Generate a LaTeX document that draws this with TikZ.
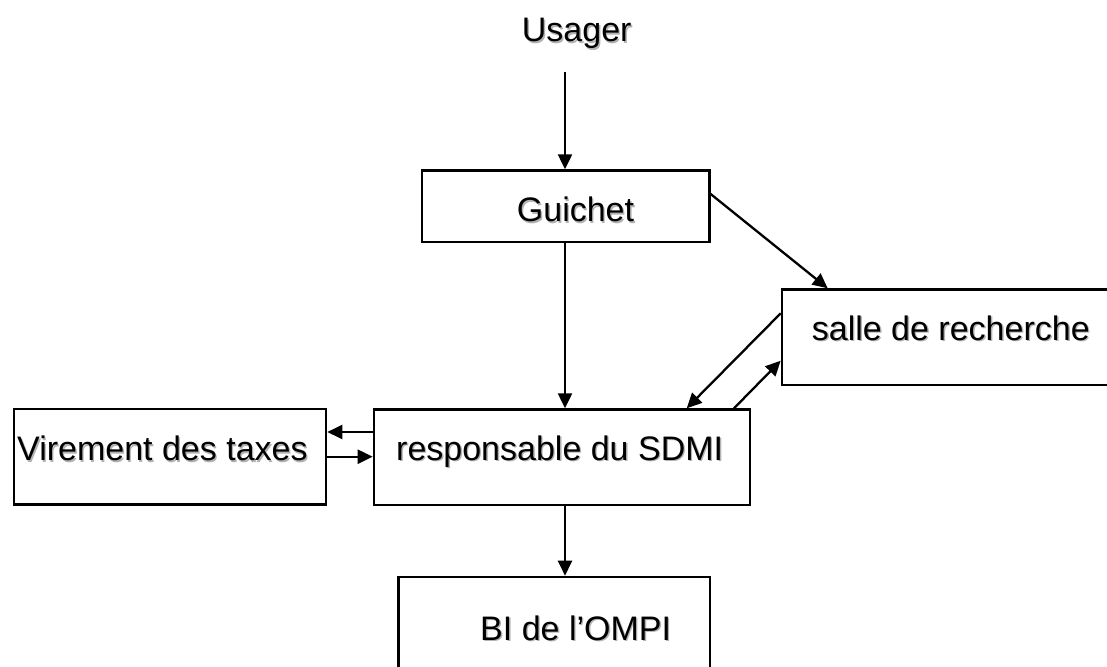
\documentclass[tikz,border=0pt]{standalone}
\usepackage{fontspec}
\setmainfont{Liberation Sans}
\usetikzlibrary{arrows.meta}

% text with a soft grey drop shadow
\newcommand{\shadowtext}[1]{\rlap{\kern1.4pt\raisebox{-1.4pt}{\textcolor{black!30}{#1}}}#1}

\begin{document}
\begin{tikzpicture}[x=1pt, y=-1pt,
    box/.style={draw, line width=2.3pt, rectangle, minimum width=#1, anchor=north west, inner sep=0pt},
    lbl/.style={anchor=base west, inner sep=0pt, font=\fontsize{34}{40}\selectfont},
    arr/.style={line width=2.3pt, -{Triangle[length=15pt, width=14pt]}},
  ]
  \useasboundingbox (0,0) rectangle (1107,666);

  % boxes
  \node[box=287.6pt, minimum height=71.4pt]  (guichet)  at (420.7,169.3) {};
  \node[box=376pt,   minimum height=95.7pt]  (sdmi)     at (372.7,408.3) {};
  \node[box=312.3pt, minimum height=95.3pt]  (virement) at (12.7,408.0)  {};
  \node[box=360pt,   minimum height=95.7pt]  (salle)    at (780.7,288.3) {};
  \node[box=311.6pt, minimum height=120pt]   (bi)       at (397.3,575.7) {};

  % labels
  \node[lbl] (tusager)   at (521.7,41.7)  {\shadowtext{Usager}};
  \node[lbl] (tguichet)  at (516.7,221.7) {\shadowtext{Guichet}};
  \node[lbl] (tsdmi)     at (396.0,460.0) {\shadowtext{responsable du SDMI}};
  \node[lbl] (tvirement) at (17.0,460.7)  {\shadowtext{Virement des taxes}};
  \node[lbl] (tsalle)    at (811.7,340.0) {\shadowtext{salle de recherche}};
  \node[lbl] (tbi)       at (480.0,640.0) {\shadowtext{BI de l’OMPI}};

  % connector end points
  \coordinate (axis)  at (565,0);
  \coordinate (u0)    at (565,71.7);
  \coordinate (g1)    at (709,192.7);
  \coordinate (s1)    at (827.7,288.3);
  \coordinate (s2)    at (780.7,313.3);
  \coordinate (d1)    at (686.7,408.3);
  \coordinate (d2)    at (734,408.3);
  \coordinate (s3)    at (780.7,360.7);
  \coordinate (hi)    at (0,432);
  \coordinate (lo)    at (0,456.7);

  % connectors
  \draw[arr] (u0) -- (u0 |- guichet.north);
  \draw[arr] (axis |- guichet.south) -- (axis |- sdmi.north);
  \draw[arr] (g1) -- (s1);
  \draw[arr] (s2) -- (d1);
  \draw[arr] (d2) -- (s3);
  \draw[arr] (sdmi.west |- hi) -- (virement.east |- hi);
  \draw[arr] (virement.east |- lo) -- (sdmi.west |- lo);
  \draw[arr] (axis |- sdmi.south) -- (axis |- bi.north);
\end{tikzpicture}
\end{document}
